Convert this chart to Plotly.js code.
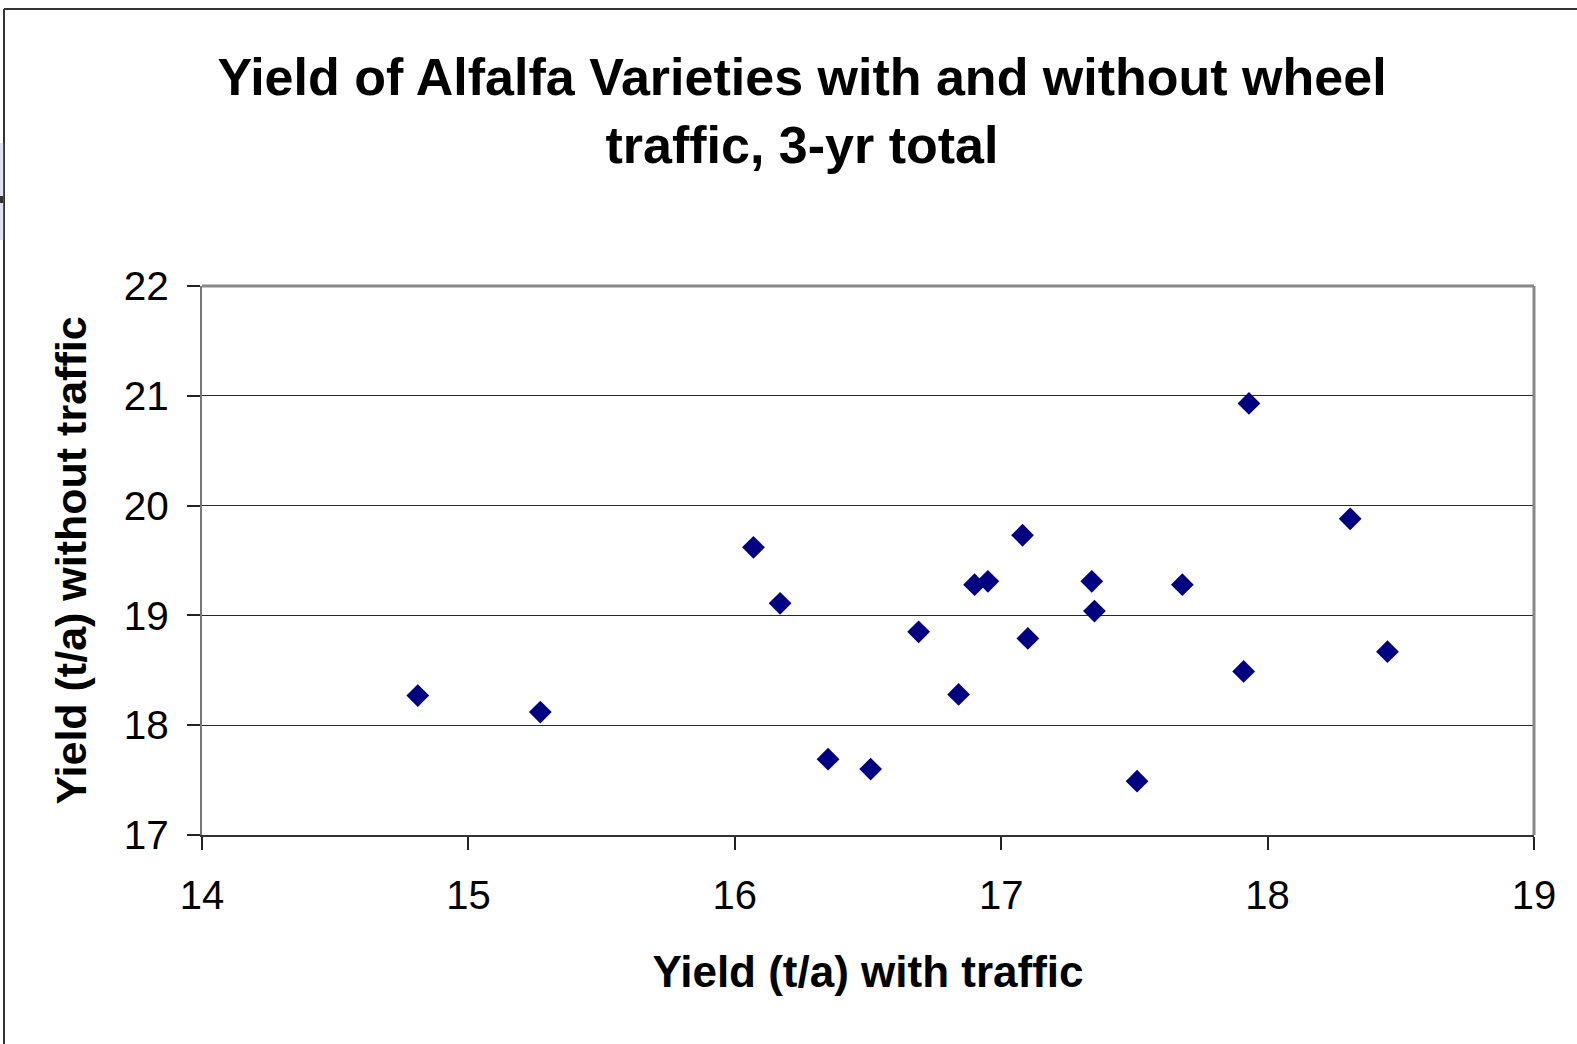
<!DOCTYPE html>
<html>
<head>
<meta charset="utf-8">
<script src="https://cdn.plot.ly/plotly-3.0.1.min.js"></script>
<style>
  html, body { margin: 0; padding: 0; background: #ffffff; }
  #chart { width: 1577px; height: 1044px; }
</style>
</head>
<body>
<div id="chart"></div>
<script>
// Yield (t/a) with traffic
const yieldWithTraffic = [14.81, 15.27, 16.07, 16.17, 16.35, 16.51, 16.69, 16.84, 16.90, 16.95,
                          17.08, 17.10, 17.34, 17.35, 17.51, 17.68, 17.91, 17.93, 18.31, 18.45];
// Yield (t/a) without traffic
const yieldWithoutTraffic = [18.27, 18.12, 19.62, 19.11, 17.69, 17.60, 18.85, 18.28, 19.28, 19.31,
                             19.73, 18.79, 19.31, 19.04, 17.49, 19.28, 18.49, 20.93, 19.88, 18.67];
const xTicks = [14, 15, 16, 17, 18, 19];
const yTicks = [17, 18, 19, 20, 21, 22];

const FONT = "Arial, 'Liberation Sans', sans-serif";

const trace = {
  type: 'scatter',
  mode: 'markers',
  x: yieldWithTraffic,
  y: yieldWithoutTraffic,
  marker: { symbol: 'diamond', size: 17.5, color: '#000080', line: { width: 0 } },
  hoverinfo: 'x+y',
  showlegend: false
};

const L = 202, R = 1534, T = 286, B = 835;
const W = 1577, H = 1044;
const px = v => (v - L) / (R - L);
const py = v => (B - v) / (B - T);

const layout = {
  width: W, height: H,
  paper_bgcolor: '#ffffff',
  plot_bgcolor: '#ffffff',
  margin: { l: L, r: W - R, t: T, b: H - B, pad: 0 },
  font: { family: FONT, color: '#000000' },
  title: {
    text: 'Yield of Alfalfa Varieties with and without wheel<br>traffic, 3-yr total',
    font: { family: FONT, size: 52, weight: 'bold', color: '#000000' },
    xref: 'container', x: 802 / W, xanchor: 'center',
    yref: 'container', y: 1 - 95 / H, yanchor: 'top'
  },
  xaxis: {
    range: [14, 19],
    tickvals: xTicks,
    ticktext: xTicks.map(String),
    showgrid: false,
    zeroline: false,
    showline: true, linecolor: '#333333', linewidth: 2,
    ticks: 'outside', ticklen: 13, tickwidth: 1.5, tickcolor: '#222222',
    tickfont: { family: FONT, size: 40, color: '#000000' },
    ticklabelstandoff: 11,
    title: {
      text: 'Yield (t/a) with traffic',
      font: { family: FONT, size: 44, weight: 'bold', color: '#000000' },
      standoff: 40
    },
    automargin: false,
    fixedrange: true
  },
  yaxis: {
    range: [17, 22],
    tickvals: yTicks,
    ticktext: yTicks.map(String),
    showgrid: true, gridcolor: '#2a2a2a', gridwidth: 1,
    zeroline: false,
    showline: true, linecolor: '#777777', linewidth: 2,
    ticks: 'outside', ticklen: 13, tickwidth: 1.5, tickcolor: '#222222',
    tickfont: { family: FONT, size: 40.5, color: '#000000' },
    ticklabelstandoff: 10,
    title: {
      text: 'Yield (t/a) without traffic\u00a0\u00a0',
      font: { family: FONT, size: 43, weight: 'bold', color: '#000000' },
      standoff: 24
    },
    automargin: false,
    fixedrange: true
  },
  shapes: [
    // plot area frame (top / right in gray)
    { type: 'line', xref: 'paper', yref: 'paper', x0: 0, x1: 1, y0: 1, y1: 1,
      line: { color: '#888888', width: 3 }, layer: 'above' },
    { type: 'line', xref: 'paper', yref: 'paper', x0: 1, x1: 1, y0: 0, y1: 1,
      line: { color: '#888888', width: 3 }, layer: 'above' },
    // outer chart border: top and left
    { type: 'line', xref: 'paper', yref: 'paper', x0: px(4), x1: px(W + 2), y0: py(9), y1: py(9),
      line: { color: '#333333', width: 2 } },
    { type: 'line', xref: 'paper', yref: 'paper', x0: px(4), x1: px(4), y0: py(9), y1: py(H + 2),
      line: { color: '#333333', width: 2 } },
    // small artifact on left edge
    { type: 'rect', xref: 'paper', yref: 'paper', x0: px(-1), x1: px(3.2), y0: py(143), y1: py(240),
      fillcolor: '#dfe0f2', line: { width: 0 } },
    { type: 'rect', xref: 'paper', yref: 'paper', x0: px(-1), x1: px(3.2), y0: py(196), y1: py(203),
      fillcolor: '#333333', line: { width: 0 } }
  ]
};

Plotly.newPlot('chart', [trace], layout, { displayModeBar: false, staticPlot: false, responsive: false });
</script>
</body>
</html>
